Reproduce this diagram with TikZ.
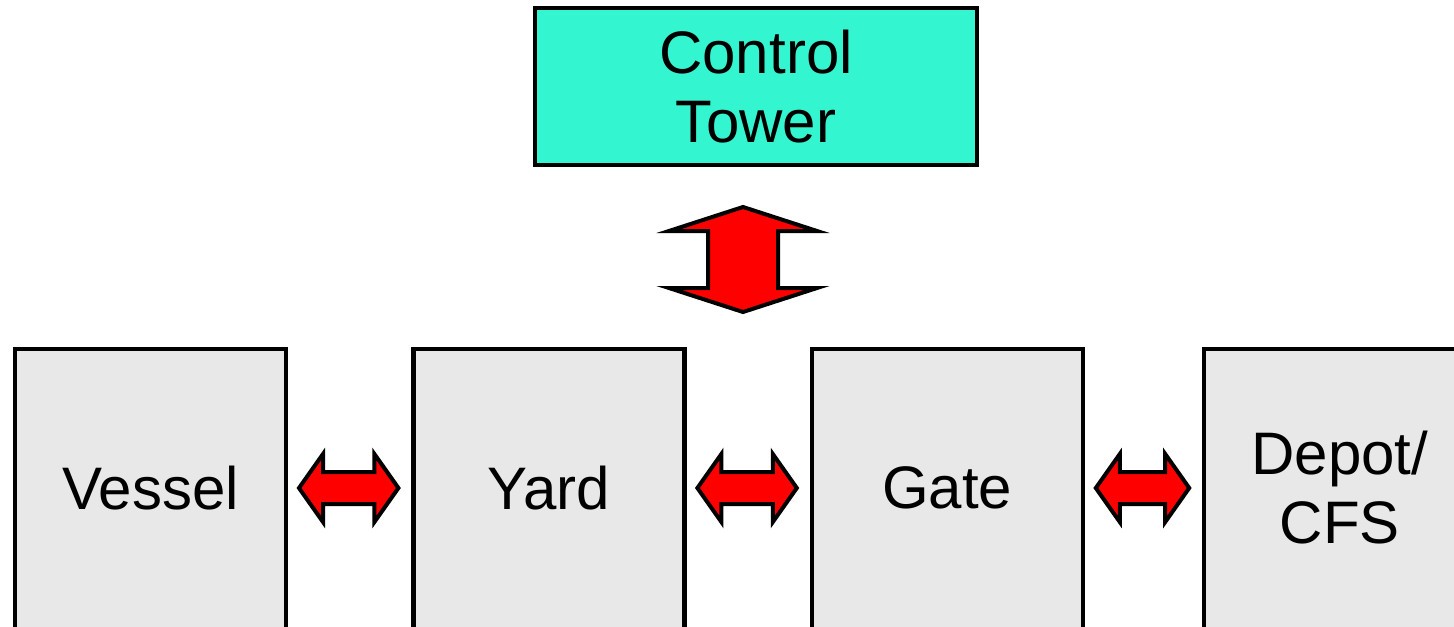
\documentclass[tikz,border=0pt]{standalone}
\usepackage{fontspec}
\setmainfont{Liberation Sans}
\usetikzlibrary{positioning, calc}
\definecolor{towercyan}{RGB}{51,245,208}
\definecolor{boxgray}{RGB}{232,232,232}

\begin{document}
\begin{tikzpicture}[x=0.5pt, y=-0.5pt, line width=2.2pt,
  area/.style={rectangle, fill=boxgray, outer sep=0pt, minimum width=135.5pt, minimum height=139pt,
    align=center, font=\fontsize{30}{34.5}\selectfont},
  tower/.style={area, draw, fill=towercyan, minimum width=221pt, minimum height=78.5pt},
  blockarrow/.style={draw=black, fill=red, line width=2pt, line join=miter},
]
  \useasboundingbox (0,0) rectangle (1454,626);
  \clip (0,0) rectangle (1454,626);

  \node[tower] (tower) at (756,86.5) {Control\\Tower};

  \node[area] (vessel) at (150.5,488) {Vessel};
  \node[area, right=63.7pt of vessel] (yard) {Yard};
  \node[area, right=63.7pt of yard] (gate) {Gate};
  \node[area, right=60.7pt of gate] (depot) {Depot/\\CFS};

  % areas run on below the page, so no bottom side
  \foreach \n in {vessel, yard, gate, depot}
    \draw ($(\n.south west)+(0,20)$) -- (\n.north west) -- (\n.north east) -- ($(\n.south east)+(0,20)$);

  % up/down arrow under the tower
  \draw[blockarrow] ($(tower.south)+(-13,42)$) coordinate (t)
    -- ++(74,24) -- ++(-39,0) -- ++(0,57) -- ++(39,0) -- ++(-74,24)
    -- ++(-74,-24) -- ++(39,0) -- ++(0,-57) -- ++(-39,0) -- cycle;

  % left/right arrows between the areas
  \foreach \a/\b in {vessel/yard, yard/gate, gate/depot}
    \draw[blockarrow] ($(\a.east)+(13,0)$) coordinate (p)
      -- ++(24,-34) -- ++(0,18) -- ($(\b.west)+(-39,-16)$) -- ++(0,-18)
      -- ++(24,34) -- ++(-24,34) -- ++(0,-18) -- ($(p)+(24,16)$) -- ++(0,18) -- cycle;
\end{tikzpicture}
\end{document}
